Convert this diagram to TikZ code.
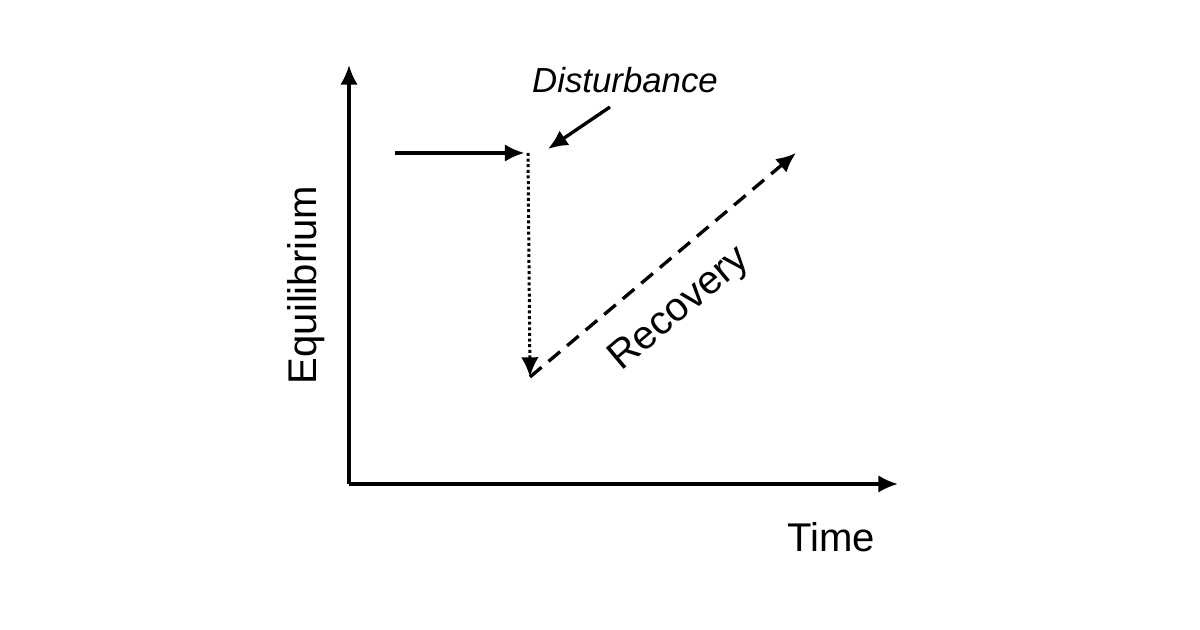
\documentclass[tikz,border=0pt]{standalone}
\usepackage{fontspec}
\setmainfont{Liberation Sans}
\usetikzlibrary{positioning,arrows.meta}

\begin{document}
\begin{tikzpicture}[>={Latex[length=5.6pt,width=5pt]}, line width=0.95pt]
\tikzset{axislabel/.style={inner sep=0pt, font=\fontsize{11.4}{13}\selectfont}}
\useasboundingbox (0,0) rectangle (12,6.3);
\coordinate (origin) at (3.49,1.46);
\coordinate (ytop) at (3.49,5.65);
\coordinate (xend) at (8.98,1.46);
\coordinate (before) at (3.95,4.77);
\coordinate (shock) at (5.28,4.77);
\coordinate (low) at (5.30,2.53);
\coordinate (back) at (7.96,4.77);
\coordinate (hint) at (6.10,5.23);
\draw [->] (origin) -- (ytop);
\draw [->] (origin) -- (xend);
\draw (3.06,3.45) node [axislabel, rotate=90] (eq) {Equilibrium};
\draw (8.31,0.93) node [axislabel] (time) {Time};
\draw (6.25,5.50) node [inner sep=0pt, font=\fontsize{9.9}{12}\selectfont\itshape] (dist) {Disturbance};
\draw [->] (before) -- ([xshift=-1pt]shock);
\draw [->, line width=0.85pt, dash pattern=on 0.85pt off 0.75pt] (shock) -- (low);
\draw [->, dash pattern=on 4.3pt off 2.6pt] (low) -- (back);
\draw [->] (hint) -- (5.48,4.81);
\draw (6.80,3.20) node [axislabel, rotate=40] (rec) {Recovery};
\end{tikzpicture}
\end{document}
